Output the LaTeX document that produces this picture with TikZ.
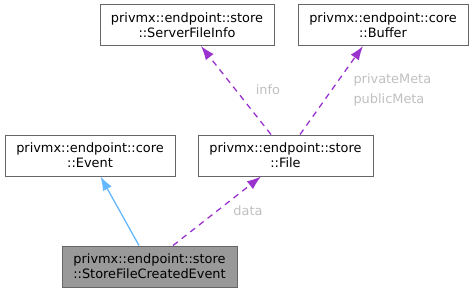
\documentclass[tikz,border=0pt]{standalone}
\usepackage{fontspec}
\setmainfont{DejaVu Sans}
\usetikzlibrary{arrows.meta}
\definecolor{boxline}{HTML}{666666}
\definecolor{basefill}{HTML}{999999}
\definecolor{useline}{HTML}{9A32CD}
\definecolor{inhline}{HTML}{63B8FF}
\definecolor{lblgrey}{HTML}{C0C0C0}
\begin{document}
\begin{tikzpicture}[x=1pt,y=-1pt,
  every node/.style={font=\fontsize{12.9}{15.3}\selectfont},
  cls/.style={draw=boxline,line width=1pt,fill=white,align=center,
    minimum height=41pt,inner sep=0pt},
  uses/.style={draw=useline,line width=1.3pt,dash pattern=on 6pt off 5pt,
    -{Latex[length=14pt,width=10pt]}},
  inherit/.style={draw=inhline,line width=1.3pt,-{Latex[length=14pt,width=10pt]}},
  lbl/.style={text=lblgrey,align=left}]
  \useasboundingbox (0,0) rectangle (473,292);
  \node[cls,minimum width=174pt] (sfi) at (187,25) {privmx::endpoint::store\\::ServerFileInfo};
  \node[cls,minimum width=170pt] (buf) at (383,25) {privmx::endpoint::core\\::Buffer};
  \node[cls,minimum width=170pt] (evt) at (90,155.5) {privmx::endpoint::core\\::Event};
  \node[cls,minimum width=175pt] (file) at (285.5,155.5) {privmx::endpoint::store\\::File};
  \node[cls,fill=basefill,minimum width=175pt] (sfce) at (149.5,266.5) {privmx::endpoint::store\\::StoreFileCreatedEvent};
  \draw[inherit] ([xshift=-10.5pt]sfce.north) -- ([xshift=10.5pt]evt.south);
  \draw[uses] ([xshift=23.5pt]sfce.north) -- ([xshift=-24.5pt]file.south);
  \draw[uses] ([xshift=-14.5pt]file.north) -- ([xshift=14pt]sfi.south);
  \draw[uses] ([xshift=14.5pt]file.north) -- ([xshift=-20pt]buf.south);
  \node[lbl] (lblinfo) at (268,90) {info};
  \node[lbl,anchor=west] (lblmeta) at (350,90) {privateMeta\\[4pt]publicMeta};
  \node[lbl] (lbldata) at (248,211) {data};
\end{tikzpicture}
\end{document}
